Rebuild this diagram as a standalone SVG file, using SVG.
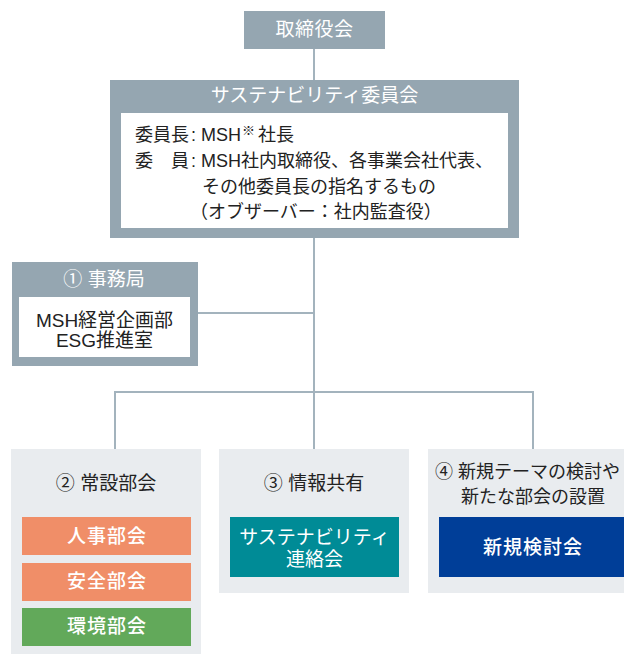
<svg xmlns="http://www.w3.org/2000/svg" width="624" height="654" viewBox="0 0 624 654">
<style>
text{font-family:"Liberation Sans","Noto Sans CJK JP",sans-serif;}
.hdr{fill:#95a6b1;}
.wbox{fill:#ffffff;}
.panel{fill:#e9ecef;}
.wt{fill:#ffffff;font-size:19px;text-anchor:middle;}
.bt{fill:#222222;font-size:18px;}
.ct{fill:#222222;font-size:19px;text-anchor:middle;}
.sub{fill:#ffffff;font-size:19px;text-anchor:middle;font-weight:500;letter-spacing:1px;}
.conn{stroke:#a3b3bd;stroke-width:2;fill:none;}
</style>
<g id="connectors">
<line class="conn" x1="314" y1="49" x2="314" y2="80"/>
<line class="conn" x1="314" y1="238" x2="314" y2="392"/>
<line class="conn" x1="198" y1="313" x2="314" y2="313"/>
<polyline class="conn" points="115,449 115,392 533,392 533,449"/>
<line class="conn" x1="314" y1="392" x2="314" y2="449"/>
</g>
<g id="board">
<rect class="hdr" x="244" y="11" width="141" height="38"/>
<text class="wt" x="314.5" y="36" letter-spacing="0.5">取締役会</text>
</g>
<g id="committee">
<rect class="hdr" x="110" y="80" width="409" height="158"/>
<rect class="wbox" x="121" y="113" width="387" height="115"/>
<text class="wt" x="314.5" y="102">サステナビリティ委員会</text>
<text class="bt" x="135" y="141">委員長<tspan dx="2">:</tspan><tspan dx="5">MSH</tspan><tspan font-size="13" dx="1" dy="-6">※</tspan><tspan dx="3" dy="6">社長</tspan></text>
<text class="bt" x="135" y="167">委　員<tspan dx="2">:</tspan><tspan dx="5">MSH社内取締役、各事業会社代表、</tspan></text>
<text class="bt" x="202" y="193">その他委員長の指名するもの</text>
<text class="bt" x="190" y="218">（オブザーバー：社内監査役）</text>
</g>
<g id="secretariat">
<rect class="hdr" x="12" y="262" width="186" height="104"/>
<rect class="wbox" x="19" y="297" width="171" height="60"/>
<text class="wt" x="104" y="286">① 事務局</text>
<text class="ct" x="104.5" y="327">MSH経営企画部</text>
<text class="ct" x="104.5" y="347">ESG推進室</text>
</g>
<g id="standing">
<rect class="panel" x="11" y="449" width="190" height="210"/>
<text class="ct" x="106" y="490">② 常設部会</text>
<rect x="22" y="517" width="169" height="38" fill="#f08e68"/>
<text class="sub" x="107" y="543">人事部会</text>
<rect x="22" y="563" width="169" height="38" fill="#f08e68"/>
<text class="sub" x="107" y="588">安全部会</text>
<rect x="22" y="608" width="169" height="38" fill="#62a95a"/>
<text class="sub" x="107" y="633">環境部会</text>
</g>
<g id="info">
<rect class="panel" x="219" y="449" width="190" height="144"/>
<text class="ct" x="314" y="490">③ 情報共有</text>
<rect x="230" y="517" width="169" height="60" fill="#008b96"/>
<text class="wt" x="314.5" y="544" font-size="18">サステナビリティ</text>
<text class="wt" x="314.5" y="566" font-size="18">連絡会</text>
</g>
<g id="newtheme">
<rect class="panel" x="428" y="449" width="200" height="144"/>
<text class="bt" x="435" y="478" font-size="19">④ 新規テーマの検討や</text>
<text class="bt" x="461" y="503" font-size="19">新たな部会の設置</text>
<rect x="439" y="517" width="190" height="60" fill="#003e98"/>
<text class="sub" x="533" y="554" letter-spacing="0.5">新規検討会</text>
</g>
</svg>
